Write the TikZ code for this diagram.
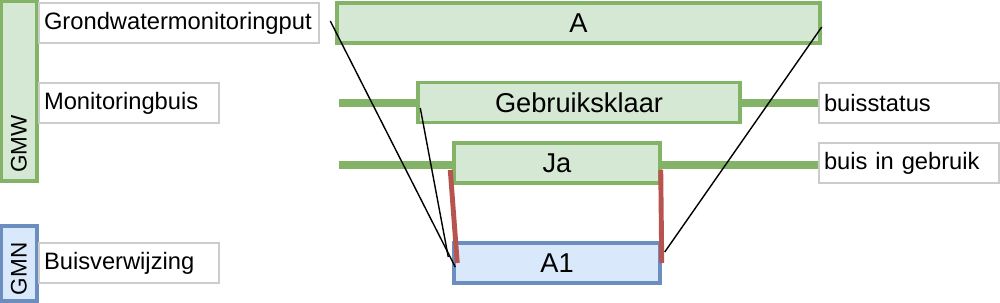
\documentclass[tikz,border=0pt]{standalone}
\usepackage{fontspec}
\setmainfont{Liberation Sans}
\usepackage{tikz}
\usetikzlibrary{calc}
\definecolor{gmwfill}{HTML}{D5E8D4}
\definecolor{gmwline}{HTML}{82B366}
\definecolor{gmnfill}{HTML}{DAE8FC}
\definecolor{gmnline}{HTML}{6C8EBF}
\definecolor{redline}{HTML}{B85450}
\definecolor{greyline}{HTML}{CCCCCC}

\begin{document}
\begin{tikzpicture}[x=0.02cm,y=-0.02cm,
    big/.style={font=\fontsize{15.5}{18}\selectfont},
    small/.style={font=\fontsize{13.5}{16}\selectfont},
    greenbox/.style={draw=gmwline,fill=gmwfill,line width=2pt,inner sep=0pt,minimum height=0.8cm,big},
    bluebox/.style={draw=gmnline,fill=gmnfill,line width=2pt,inner sep=0pt,minimum height=0.8cm,big},
    lbl/.style={draw=greyline,fill=white,line width=1.2pt,minimum height=0.8cm,inner ysep=0pt,inner xsep=0.1cm,text width=#1,align=left,small},
    lane/.style={line width=1.8pt,rotate=90,minimum height=0.72cm,inner ysep=0pt,align=left,font=\fontsize{12.8}{15}\selectfont},
    bar/.style={gmwline,line width=4.5pt},
    link/.style={redline,line width=2.8pt},
    thin/.style={black,line width=0.8pt}]
  \useasboundingbox (0,0) rectangle (1000,302);
  % registers
  \node[lane,draw=gmwline,fill=gmwfill,minimum width=3.6cm,inner xsep=0.16cm,text width=3.28cm] (gmw) at (19,91) {GMW};
  \node[lane,draw=gmnline,fill=gmnfill,minimum width=1.5cm,inner xsep=0.12cm,text width=1.26cm] (gmn) at (19,263.5) {GMN};
  % attribute names
  \node[lbl=5.4cm] (put) at (179,23) {Grondwatermonitoringput};
  \node[lbl=3.4cm] (buis) at (129,103) {Monitoringbuis};
  \node[lbl=3.4cm] (verw) at (129,263) {Buisverwijzing};
  \node[lbl=3.4cm] (status) at (909,103) {buisstatus};
  \node[lbl=3.4cm] (gebruik) at (909,163) {buis in gebruik};
  % bars
  \coordinate (barA) at (339,103);
  \coordinate (barB) at (339,165);
  \draw[bar] (barA) -- (barA -| status.west);
  \draw[bar] (barB) -- (barB -| gebruik.west);
  % values
  \node[greenbox,minimum width=9.66cm] (A) at (578.5,23) {A};
  \node[greenbox,minimum width=6.44cm] (klaar) at (579,102.5) {Gebruiksklaar};
  \node[greenbox,minimum width=4.12cm] (ja) at (557,163) {Ja};
  \node[bluebox,minimum width=4.12cm] (A1) at (557,263) {A1};
  % links
  \draw[link] ([shift={(-2,7)}]ja.west) -- ([shift={(5,0)}]A1.west);
  \draw[link] ([shift={(-1,7)}]ja.east) -- (A1.east);
  \draw[thin] ([shift={(-5,-2)}]A.west) -- ([shift={(3,4)}]A1.west);
  \draw[thin] ([shift={(4,5.5)}]klaar.west) -- ([shift={(-4,-6)}]A1.west);
  \draw[thin] ([shift={(0,4)}]A.east) -- ([shift={(3,-11)}]A1.east);
\end{tikzpicture}
\end{document}
